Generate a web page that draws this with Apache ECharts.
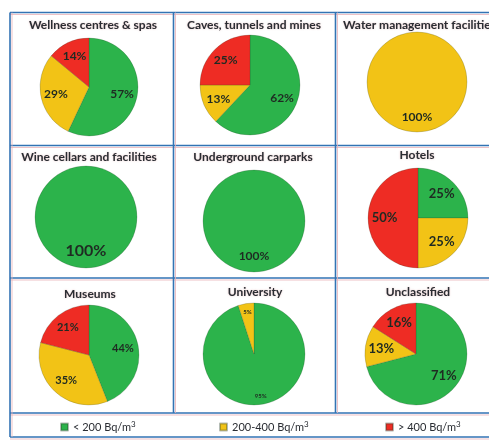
<!DOCTYPE html>
<html>
<head>
<meta charset="utf-8">
<script src="https://cdn.jsdelivr.net/npm/echarts@6/dist/echarts.min.js"></script>
<style>
  html, body { margin: 0; padding: 0; background: #ffffff; }
  #chart { width: 489px; height: 440px; }
</style>
</head>
<body>
<div id="chart"></div>
<script>
// Radon concentration classes per building type (share of sites, %)
const categories = [
  'Wellness centres & spas', 'Caves, tunnels and mines', 'Water management facilities',
  'Wine cellars and facilities', 'Underground carparks', 'Hotels',
  'Museums', 'University', 'Unclassified'
];
const classNames = ['< 200 Bq/m3', '200-400 Bq/m3', '> 400 Bq/m3'];
const below200 = [57, 62, 0, 100, 100, 25, 44, 95, 71];
const from200to400 = [29, 13, 100, 0, 0, 25, 35, 5, 13];
const above400 = [14, 25, 0, 0, 0, 50, 21, 0, 16];

const classColors = ['#2cb34b', '#f2c316', '#ee2c24'];

// panel layout: pie centre, radius, title anchor, label size, label ring
const layout = [
  { c: [89, 87],  r: 49, t: [93, 25],  tAlign: 'center', fs: 12, inner: 0.26 },
  { c: [250, 85], r: 50, t: [254, 25], tAlign: 'center', fs: 12, inner: 0.26 },
  { c: [417, 82], r: 50, t: [343, 25], tAlign: 'left',   fs: 12, inner: 0.3 },
  { c: [86, 217], r: 51, t: [89, 157], tAlign: 'center', fs: 16, inner: 0.22 },
  { c: [254, 221], r: 51, t: [253, 157], tAlign: 'center', fs: 12, inner: 0.26 },
  { c: [418, 218], r: 50, t: [417, 155], tAlign: 'center', fs: 13, inner: 0.22 },
  { c: [89, 355], r: 50, t: [90, 294], tAlign: 'center', fs: 11, inner: 0.26 },
  { c: [254, 354], r: 51, t: [255, 292], tAlign: 'center', fs: 6,  inner: 0.55 },
  { c: [416, 354], r: 51, t: [418, 292], tAlign: 'center', fs: 13, inner: 0.26 }
];

function sliceData(i) {
  const vals = [below200[i], from200to400[i], above400[i]];
  return vals.map((v, k) => ({ name: classNames[k], value: v, itemStyle: { color: classColors[k] } }))
             .filter(d => d.value > 0);
}

const series = [];
// coloured pies
categories.forEach((cat, i) => {
  const L = layout[i];
  series.push({
    type: 'pie',
    name: cat,
    center: L.c,
    radius: [0, L.r],
    startAngle: 90,
    clockwise: true,
    silent: true,
    animation: false,
    label: { show: false },
    labelLine: { show: false },
    itemStyle: { borderColor: 'rgba(40,60,40,0.35)', borderWidth: 0.6 },
    data: sliceData(i)
  });
});
// percentage labels on a transparent ring so they sit further out
categories.forEach((cat, i) => {
  const L = layout[i];
  series.push({
    type: 'pie',
    name: cat + ' labels',
    center: L.c,
    radius: [L.r * L.inner, L.r],
    startAngle: 90,
    clockwise: true,
    silent: true,
    animation: false,
    itemStyle: { color: 'rgba(0,0,0,0)' },
    labelLine: { show: false },
    label: {
      show: true,
      position: 'inside',
      formatter: '{c}%',
      fontFamily: 'Lato',
      fontWeight: 'bold',
      fontSize: L.fs,
      color: '#1f2a22'
    },
    data: sliceData(i).map(d => ({ name: d.name, value: d.value }))
  });
});

// grid lines: blue rule with a faint pink companion line
const blue = '#3273b4';
const pink = '#e9b1b8';
function hLine(y, x1, x2) {
  return [
    { type: 'line', shape: { x1: x1, y1: y + 2, x2: x2, y2: y + 2 }, style: { stroke: pink, lineWidth: 0.8 }, silent: true },
    { type: 'line', shape: { x1: x1, y1: y, x2: x2, y2: y }, style: { stroke: blue, lineWidth: 1.6 }, silent: true }
  ];
}
function vLine(x, y1, y2) {
  return [
    { type: 'line', shape: { x1: x + 2, y1: y1, x2: x + 2, y2: y2 }, style: { stroke: pink, lineWidth: 0.8 }, silent: true },
    { type: 'line', shape: { x1: x, y1: y1, x2: x, y2: y2 }, style: { stroke: blue, lineWidth: 1.6 }, silent: true }
  ];
}
const graphics = [].concat(
  hLine(12.5, 10, 489), hLine(145.5, 10, 489), hLine(278, 10, 489), hLine(413, 10, 489), hLine(437, 10, 489),
  vLine(10, 12.5, 437), vLine(173.5, 12.5, 413), vLine(335.5, 12.5, 413)
);
categories.forEach((cat, i) => {
  const L = layout[i];
  graphics.push({
    type: 'text',
    x: L.t[0], y: L.t[1],
    silent: true,
    style: {
      text: cat,
      align: L.tAlign,
      verticalAlign: 'middle',
      fontFamily: 'Lato',
      fontWeight: 'bold',
      fontSize: 12,
      fill: '#2a2d33',
      textShadowColor: 'rgba(210,140,140,0.55)',
      textShadowBlur: 2
    }
  });
});

// one legend per concentration class, spread across the bottom row
const legendLeft = [55, 214, 380];
const legends = classNames.map((nm, k) => ({
  data: [{ name: nm, itemStyle: { color: classColors[k] } }],
  left: legendLeft[k],
  top: 415,
  icon: 'rect',
  itemWidth: 7,
  itemHeight: 7,
  itemGap: 0,
  selectedMode: false,
  formatter: (name) => '{a|' + name.slice(0, -1) + '}{s|3}',
  textStyle: {
    rich: {
      a: { fontFamily: 'Lato', fontSize: 11, color: '#2a2d33' },
      s: { fontFamily: 'Lato', fontSize: 8, color: '#2a2d33', padding: [0, 0, 6, 0] }
    }
  }
}));

const chart = echarts.init(document.getElementById('chart'), null, { renderer: 'canvas' });
chart.setOption({
  backgroundColor: '#ffffff',
  animation: false,
  legend: legends,
  series: series,
  graphic: graphics
});
</script>
</body>
</html>
